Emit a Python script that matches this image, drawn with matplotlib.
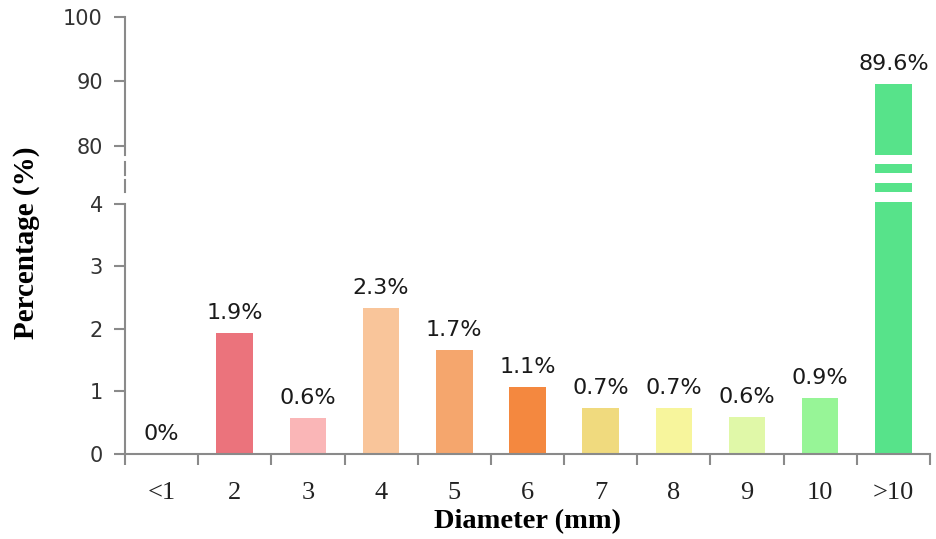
import numpy as np
import matplotlib
matplotlib.use("Agg")
import matplotlib.pyplot as plt

# data
categories = ["<1", "2", "3", "4", "5", "6", "7", "8", "9", "10", ">10"]
percent = [0.0, 1.94, 0.58, 2.34, 1.66, 1.07, 0.74, 0.74, 0.59, 0.9, 89.6]
value_labels = ["0%", "1.9%", "0.6%", "2.3%", "1.7%", "1.1%", "0.7%", "0.7%", "0.6%", "0.9%", "89.6%"]
bar_colors = ["#EB737C", "#EB737C", "#FAB6B7", "#F9C59A", "#F5A66D", "#F4883F",
              "#F0DA7E", "#F7F59C", "#E0F8A8", "#97F597", "#57E38A"]
yticks = [0, 1, 2, 3, 4, 80, 90, 100]

# broken y axis: 0-4 stretched, 4-80 squeezed, 80-100 compressed
brk_vals = np.array([0.0, 4.0, 80.0, 100.0])
brk_pix = np.array([0.0, 250.0, 308.0, 437.0])


def _pw(x, xs, ys):
    x = np.asarray(x, dtype=float)
    out = np.interp(x, xs, ys)
    lo = x < xs[0]
    hi = x > xs[-1]
    out = np.where(lo, ys[0] + (x - xs[0]) * (ys[1] - ys[0]) / (xs[1] - xs[0]), out)
    out = np.where(hi, ys[-1] + (x - xs[-1]) * (ys[-1] - ys[-2]) / (xs[-1] - xs[-2]), out)
    return out


def fwd(y):
    return _pw(y, brk_vals, brk_pix)


def inv(p):
    return _pw(p, brk_pix, brk_vals)


fig = plt.figure(figsize=(9.37, 5.39), dpi=100)
ax = fig.add_axes([0.1334, 0.1577, 0.8591, 0.8108])
ax.set_yscale("function", functions=(fwd, inv))

x = np.arange(len(categories))
ax.bar(x, percent, width=0.5, color=bar_colors, zorder=2)

# white stripes marking the break on the tall bar
break_gaps = [(6.6, 19.7), (31.5, 44.6), (56.4, 68.2)]
for lo, hi in break_gaps:
    ax.bar(x[-1], hi - lo, bottom=lo, width=0.56, color="white", zorder=3)

for xi, v, lab in zip(x, percent, value_labels):
    ax.annotate(lab, (xi, v), xytext=(0, 10), textcoords="offset points",
                ha="center", va="baseline", fontsize=16, color="#1a1a1a",
                family="DejaVu Sans")

ax.set_xlim(-0.5, len(categories) - 0.5)
ax.set_ylim(0, 100)

# axis lines
axis_col = "#8a8a8a"
for s in ["top", "right", "left"]:
    ax.spines[s].set_visible(False)
ax.spines["bottom"].set_color(axis_col)
ax.spines["bottom"].set_linewidth(1.5)
ax.plot([-0.5, -0.5], [0, 4], color=axis_col, lw=1.5, clip_on=False, zorder=4)
ax.plot([-0.5, -0.5], [68.2, 100], color=axis_col, lw=1.5, clip_on=False, zorder=4)
for lo, hi in [(42, 59), (19.7, 35.4)]:
    ax.plot([-0.5, -0.5], [lo, hi], color=axis_col, lw=1.5, clip_on=False, zorder=4)

ax.set_yticks(yticks)
ax.set_yticklabels([str(t) for t in yticks], fontsize=15, color="#333333",
                   family="DejaVu Sans")
ax.tick_params(axis="y", length=8, width=1.5, color=axis_col, pad=8)

ax.set_xticks(x)
ax.set_xticklabels(categories, fontsize=19, family="Liberation Serif", color="#222222")
ax.set_xticks(np.arange(-0.5, len(categories)), minor=True)
ax.tick_params(axis="x", which="major", length=0, pad=20)
ax.tick_params(axis="x", which="minor", length=8, width=1.5, color=axis_col)

ax.set_xlabel("Diameter (mm)", fontsize=20.5, fontweight="bold", family="Liberation Serif")
ax.set_ylabel("Percentage (%)", fontsize=21, fontweight="bold", family="Liberation Serif")
ax.xaxis.set_label_coords(0.5, -0.125)
ax.yaxis.set_label_coords(-0.106, 0.483)

fig.savefig("out.png", dpi=100)
